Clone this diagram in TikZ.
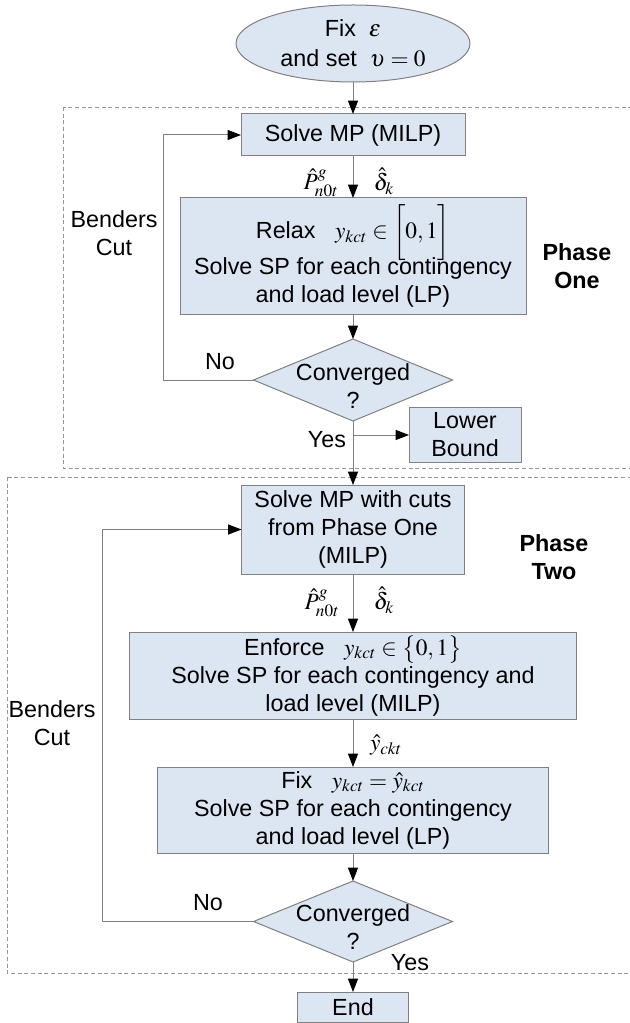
\documentclass[tikz,border=0pt]{standalone}
\usepackage{mathptmx}
\usepackage[no-math]{fontspec}
\setmainfont{Liberation Sans}
\usetikzlibrary{shapes.geometric,arrows.meta}
\definecolor{boxfill}{RGB}{220,230,242}
\definecolor{boxline}{RGB}{128,128,128}
\definecolor{lineg}{RGB}{128,128,128}
\definecolor{dashg}{RGB}{150,150,150}
\begin{document}
\begin{tikzpicture}[x=0.75pt,y=-0.75pt,
  every node/.style={font=\fontsize{17.5}{21}\selectfont, text=black},
  procbox/.style={draw=boxline, fill=boxfill, line width=0.75pt, inner sep=0pt, outer sep=0pt, align=center},
  startshape/.style={ellipse, draw=boxline, fill=boxfill, line width=0.75pt, inner sep=0pt, outer sep=0pt, align=center},
  decision/.style={diamond, draw=boxline, fill=boxfill, line width=0.75pt, inner sep=0pt, outer sep=0pt},
  conn/.style={draw=lineg, line width=0.75pt, -{Triangle[length=10pt,width=7.5pt,color=black]}},
  phasebox/.style={draw=dashg, line width=0.6pt, dash pattern=on 3pt off 2pt},
  lbl/.style={inner sep=0pt, outer sep=0pt, align=center},
  phaselbl/.style={inner sep=0pt, align=center, font=\fontsize{17.5}{21}\selectfont\bfseries},
]
\useasboundingbox (0,0) rectangle (630,1023);

% phase frames
\draw[phasebox] (63,107) rectangle (660,468);
\draw[phasebox] (7,477) rectangle (660,973);

% nodes
\node[startshape, minimum width=175.5pt, minimum height=57.75pt, font=\fontsize{17.5}{22.5}\selectfont] (start) at (353,43.5) {Fix\ \ $\varepsilon$\\and set\ \ $\upsilon=0$};
\node[procbox, minimum width=168pt, minimum height=31.5pt] (mp1) at (353,135) {Solve MP (MILP)};
\node[procbox, minimum width=259.5pt, minimum height=87pt] (relax) at (353,256)
  {Relax\ \ \ $y_{kct}\in\bigg[0,1\bigg]$\\[-3pt]Solve SP for each contingency\\and load level (LP)};
\node[decision, minimum width=149.25pt, minimum height=61.5pt,
  label={[lbl, yshift=-4.5pt]center:{Converged\\?}}] (dia1) at (353,380) {};
\node[procbox, minimum width=84pt, minimum height=41.25pt] (lb) at (465,435) {Lower\\Bound};
\node[procbox, minimum width=167.25pt, minimum height=66.75pt] (mp2) at (353,529.5)
  {Solve MP with cuts\\from Phase One\\(MILP)};
\node[procbox, minimum width=335.25pt, minimum height=65.25pt] (enf) at (353,675.5)
  {Enforce\ \ \ $y_{kct}\in\big\{0,1\big\}$\\Solve SP for each contingency and\\load level (MILP)};
\node[procbox, minimum width=293.25pt, minimum height=64.5pt] (fix) at (353,810)
  {Fix\ \ \ $y_{kct}=\hat{y}_{kct}$\\Solve SP for each contingency\\and load level (LP)};
\node[decision, minimum width=149.25pt, minimum height=60.75pt,
  label={[lbl, yshift=-4.5pt]center:{Converged\\?}}] (dia2) at (353,921.5) {};
\node[procbox, minimum width=83.25pt, minimum height=22.5pt] (end) at (353,1007) {End};

% labels
\node[lbl] (p1) at (321,183) {$\hat{P}^{g}_{n0t}$};
\node[lbl] (d1) at (384,181) {$\hat{\delta}_{k}$};
\node[lbl] (p2) at (322,603) {$\hat{P}^{g}_{n0t}$};
\node[lbl] (d2) at (384,600) {$\hat{\delta}_{k}$};
\node[lbl] (yh) at (386,745) {$\hat{y}_{ckt}$};
\node[lbl] (bc1) at (114,233) {Benders\\Cut};
\node[lbl] (bc2) at (52,723) {Benders\\Cut};
\node[phaselbl] (ph1) at (577,266) {Phase\\One};
\node[phaselbl] (ph2) at (554,557) {Phase\\Two};
\node[lbl] (no1) at (220,362) {No};
\node[lbl] (no2) at (208,903) {No};
\node[lbl] (yes1) at (327,440) {Yes};
\node[lbl] (yes2) at (410,963) {Yes};

% coordinates
\coordinate (l1) at (163,380);
\coordinate (l2) at (102,921.5);
\coordinate (br) at (353,435);

% connectors
\draw[conn] (start) -- (mp1);
\draw[conn] (mp1) -- (relax);
\draw[conn] (relax) -- (dia1);
\draw[conn] (dia1.west) -- (l1) |- (mp1.west);
\draw[conn] (dia1.south) -- (mp2.north);
\draw[conn] (br) -- (lb.west);
\draw[conn] (mp2) -- (enf);
\draw[conn] (enf) -- (fix);
\draw[conn] (fix) -- (dia2);
\draw[conn] (dia2.west) -- (l2) |- (mp2.west);
\draw[conn] (dia2.south) -- (end.north);
\end{tikzpicture}
\end{document}
